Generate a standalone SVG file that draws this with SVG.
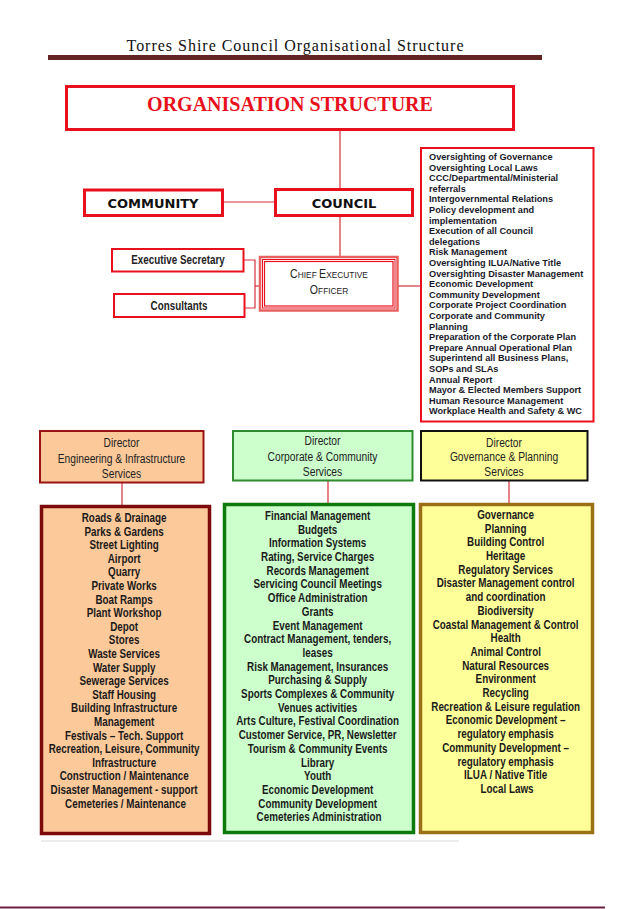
<svg xmlns="http://www.w3.org/2000/svg" width="617" height="909" viewBox="0 0 617 909">
<style>
.conn{stroke:#d8303c;stroke-width:1.2;fill:none}
.redbox{fill:#fff;stroke:#e8101c;stroke-width:3}
.thin{fill:#fff;stroke:#e8101c;stroke-width:2}
.hdr{font-family:"DejaVu Sans","Liberation Sans",sans-serif;font-weight:bold;font-size:13px;fill:#111;text-anchor:middle}
.sm{font-family:"Liberation Sans",Arial,sans-serif;font-weight:bold;font-size:12px;fill:#222;text-anchor:middle}
.ceo{font-family:"Liberation Sans",Arial,sans-serif;font-size:12px;fill:#222;text-anchor:middle}
.resp{font-family:"Liberation Sans",Arial,sans-serif;font-weight:bold;font-size:9.2px;fill:#1a1a2a}
.dir{font-family:"Liberation Sans",Arial,sans-serif;font-size:12.5px;fill:#222;text-anchor:middle}
.lst{font-family:"Liberation Sans",Arial,sans-serif;font-weight:bold;font-size:12px;fill:#1a1a1a;text-anchor:middle}
</style>
<rect width="617" height="909" fill="#fff"/>
<g id="header">
<text x="295" y="51" font-family="'Liberation Serif',serif" font-size="16" fill="#111" text-anchor="middle" textLength="337">Torres Shire Council Organisational Structure</text>
<rect x="48" y="55" width="494" height="5" fill="#632523"/>
</g>
<g id="connectors">
<line class="conn" x1="340" y1="129" x2="340" y2="189"/>
<line class="conn" x1="223" y1="202" x2="274" y2="202"/>
<line class="conn" x1="340" y1="216" x2="340" y2="257"/>
<polyline class="conn" points="244,260 255,260 255,308 245,308"/>
<line class="conn" x1="255" y1="286" x2="259" y2="286"/>
<line class="conn" x1="398" y1="286" x2="420" y2="286"/>
<line class="conn" x1="122" y1="483" x2="122" y2="505"/>
<line class="conn" x1="328" y1="481" x2="328" y2="503"/>
<line class="conn" x1="509" y1="481" x2="509" y2="503"/>
</g>
<g id="org-structure">
<rect x="66.5" y="86.5" width="447" height="43" class="redbox" stroke-width="3.5"/>
<text x="290" y="111" font-family="'Liberation Serif',serif" font-weight="bold" font-size="20" fill="#e8101c" text-anchor="middle">ORGANISATION STRUCTURE</text>
</g>
<g id="community">
<rect x="84.5" y="190" width="138" height="25.5" class="redbox"/>
<text x="153" y="208" class="hdr">COMMUNITY</text>
</g>
<g id="council">
<rect x="275.5" y="189.5" width="137" height="26" class="redbox"/>
<text x="344" y="208" class="hdr">COUNCIL</text>
</g>
<g id="exec-secretary">
<rect x="112" y="249" width="131.5" height="22.5" class="thin"/>
<text class="sm" transform="translate(178,264) scale(0.82,1)">Executive Secretary</text>
</g>
<g id="consultants">
<rect x="114" y="294" width="130.5" height="23" class="thin"/>
<text class="sm" transform="translate(179,310) scale(0.82,1)">Consultants</text>
</g>
<g id="ceo">
<rect x="260" y="257" width="137.5" height="53.5" fill="#fff" stroke="#e86060" stroke-width="2.5"/>
<rect x="262.5" y="259.5" width="132.5" height="48.5" fill="none" stroke="#e8101c" stroke-width="1"/>
<rect x="264.5" y="261.5" width="128.5" height="44.5" fill="none" stroke="#e8101c" stroke-width="1.2"/>
<text class="ceo" transform="translate(329,278) scale(0.88,1)"><tspan>C</tspan><tspan font-size="9.5">HIEF </tspan><tspan>E</tspan><tspan font-size="9.5">XECUTIVE</tspan></text>
<text class="ceo" transform="translate(329,294) scale(0.88,1)"><tspan>O</tspan><tspan font-size="9.5">FFICER</tspan></text>
</g>
<g id="responsibilities">
<rect x="421" y="148" width="172.5" height="273.5" fill="#fff" stroke="#e8101c" stroke-width="2"/>
<text class="resp">
<tspan x="429" y="160">Oversighting of Governance</tspan>
<tspan x="429" y="170.6">Oversighting Local Laws</tspan>
<tspan x="429" y="181.2">CCC/Departmental/Ministerial</tspan>
<tspan x="429" y="191.8">referrals</tspan>
<tspan x="429" y="202.4">Intergovernmental Relations</tspan>
<tspan x="429" y="213">Policy development and</tspan>
<tspan x="429" y="223.6">implementation</tspan>
<tspan x="429" y="234.2">Execution of all Council</tspan>
<tspan x="429" y="244.8">delegations</tspan>
<tspan x="429" y="255.4">Risk Management</tspan>
<tspan x="429" y="266">Oversighting ILUA/Native Title</tspan>
<tspan x="429" y="276.6">Oversighting Disaster Management</tspan>
<tspan x="429" y="287.2">Economic Development</tspan>
<tspan x="429" y="297.8">Community Development</tspan>
<tspan x="429" y="308.4">Corporate Project Coordination</tspan>
<tspan x="429" y="319">Corporate and Community</tspan>
<tspan x="429" y="329.6">Planning</tspan>
<tspan x="429" y="340.2">Preparation of the Corporate Plan</tspan>
<tspan x="429" y="350.8">Prepare Annual Operational Plan</tspan>
<tspan x="429" y="361.4">Superintend all Business Plans,</tspan>
<tspan x="429" y="372">SOPs and SLAs</tspan>
<tspan x="429" y="382.6">Annual Report</tspan>
<tspan x="429" y="393.2">Mayor &amp; Elected Members Support</tspan>
<tspan x="429" y="403.8">Human Resource Management</tspan>
<tspan x="429" y="414.4">Workplace Health and Safety &amp; WC</tspan>
</text>
</g>
<g id="dir-engineering">
<rect x="40" y="431" width="163.5" height="51.5" fill="#fcc99b" stroke="#9b1414" stroke-width="2"/>
<text class="dir" transform="translate(121.5,0) scale(0.82,1)"><tspan x="0" y="447">Director</tspan><tspan x="0" y="463">Engineering &amp; Infrastructure</tspan><tspan x="0" y="478">Services</tspan></text>
</g>
<g id="dir-corporate">
<rect x="233" y="431" width="179.5" height="49.5" fill="#ccffcc" stroke="#2e8b2e" stroke-width="2"/>
<text class="dir" transform="translate(322.5,0) scale(0.82,1)"><tspan x="0" y="445">Director</tspan><tspan x="0" y="461">Corporate &amp; Community</tspan><tspan x="0" y="476">Services</tspan></text>
</g>
<g id="dir-governance">
<rect x="421" y="431" width="166.5" height="49.5" fill="#ffff99" stroke="#111" stroke-width="2"/>
<text class="dir" transform="translate(504,0) scale(0.82,1)"><tspan x="0" y="447">Director</tspan><tspan x="0" y="461">Governance &amp; Planning</tspan><tspan x="0" y="476">Services</tspan></text>
</g>
<g id="list-engineering">
<rect x="41.5" y="506.5" width="168" height="327" fill="#fcc99b" stroke="#7d0a0a" stroke-width="3.5"/>
<text class="lst" transform="translate(125.5,0) scale(0.82,1)">
<tspan x="0" y="522">Roads &amp; Drainage</tspan>
<tspan x="0" y="535.6">Parks &amp; Gardens</tspan>
<tspan x="0" y="549.2">Street Lighting</tspan>
<tspan x="0" y="562.8">Airport</tspan>
<tspan x="0" y="576.4">Quarry</tspan>
<tspan x="0" y="590">Private Works</tspan>
<tspan x="0" y="603.6">Boat Ramps</tspan>
<tspan x="0" y="617.2">Plant Workshop</tspan>
<tspan x="0" y="630.8">Depot</tspan>
<tspan x="0" y="644.4">Stores</tspan>
<tspan x="0" y="658">Waste Services</tspan>
<tspan x="0" y="671.6">Water Supply</tspan>
<tspan x="0" y="685.2">Sewerage Services</tspan>
<tspan x="0" y="698.8">Staff Housing</tspan>
<tspan x="0" y="712.4">Building Infrastructure</tspan>
<tspan x="0" y="726">Management</tspan>
<tspan x="0" y="739.6">Festivals – Tech. Support</tspan>
<tspan x="0" y="753.2">Recreation, Leisure, Community</tspan>
<tspan x="0" y="766.8">Infrastructure</tspan>
<tspan x="0" y="780.4">Construction / Maintenance</tspan>
<tspan x="0" y="794">Disaster Management - support</tspan>
<tspan x="0" y="807.6">Cemeteries / Maintenance</tspan>
</text>
</g>
<g id="list-corporate">
<rect x="224.5" y="504.5" width="189" height="328" fill="#ccffcc" stroke="#0e7a0e" stroke-width="3.5"/>
<text class="lst" transform="translate(319,0) scale(0.82,1)">
<tspan x="0" y="520">Financial Management</tspan>
<tspan x="0" y="533.7">Budgets</tspan>
<tspan x="0" y="547.4">Information Systems</tspan>
<tspan x="0" y="561.1">Rating, Service Charges</tspan>
<tspan x="0" y="574.8">Records Management</tspan>
<tspan x="0" y="588.5">Servicing Council Meetings</tspan>
<tspan x="0" y="602.2">Office Administration</tspan>
<tspan x="0" y="615.9">Grants</tspan>
<tspan x="0" y="629.6">Event Management</tspan>
<tspan x="0" y="643.3">Contract Management, tenders,</tspan>
<tspan x="0" y="657">leases</tspan>
<tspan x="0" y="670.7">Risk Management, Insurances</tspan>
<tspan x="0" y="684.4">Purchasing &amp; Supply</tspan>
<tspan x="0" y="698.1">Sports Complexes &amp; Community</tspan>
<tspan x="0" y="711.8">Venues activities</tspan>
<tspan x="0" y="725.5">Arts Culture, Festival Coordination</tspan>
<tspan x="0" y="739.2">Customer Service, PR, Newsletter</tspan>
<tspan x="0" y="752.9">Tourism &amp; Community Events</tspan>
<tspan x="0" y="766.6">Library</tspan>
<tspan x="0" y="780.3">Youth</tspan>
<tspan x="0" y="794">Economic Development</tspan>
<tspan x="0" y="807.7">Community Development</tspan>
<tspan x="0" y="821.4">Cemeteries Administration</tspan>
</text>
</g>
<g id="list-governance">
<rect x="420.5" y="504.5" width="172" height="328" fill="#ffff99" stroke="#9a7014" stroke-width="3.5"/>
<text class="lst" transform="translate(507,0) scale(0.82,1)">
<tspan x="0" y="519">Governance</tspan>
<tspan x="0" y="532.7">Planning</tspan>
<tspan x="0" y="546.4">Building Control</tspan>
<tspan x="0" y="560.1">Heritage</tspan>
<tspan x="0" y="573.8">Regulatory Services</tspan>
<tspan x="0" y="587.5">Disaster Management control</tspan>
<tspan x="0" y="601.2">and coordination</tspan>
<tspan x="0" y="614.9">Biodiversity</tspan>
<tspan x="0" y="628.6">Coastal Management &amp; Control</tspan>
<tspan x="0" y="642.3">Health</tspan>
<tspan x="0" y="656">Animal Control</tspan>
<tspan x="0" y="669.7">Natural Resources</tspan>
<tspan x="0" y="683.4">Environment</tspan>
<tspan x="0" y="697.1">Recycling</tspan>
<tspan x="0" y="710.8">Recreation &amp; Leisure regulation</tspan>
<tspan x="0" y="724.5">Economic Development –</tspan>
<tspan x="0" y="738.2">regulatory emphasis</tspan>
<tspan x="0" y="751.9">Community Development –</tspan>
<tspan x="0" y="765.6">regulatory emphasis</tspan>
<tspan x="0" y="779.3">ILUA / Native Title</tspan>
<tspan x="0" y="793">Local Laws</tspan>
</text>
</g>
<g id="footer">
<line x1="41" y1="841" x2="459" y2="841" stroke="#d8d8d8" stroke-width="1"/>
<line x1="0" y1="907.5" x2="605" y2="907.5" stroke="#6e1f45" stroke-width="2"/>
</g>
</svg>
